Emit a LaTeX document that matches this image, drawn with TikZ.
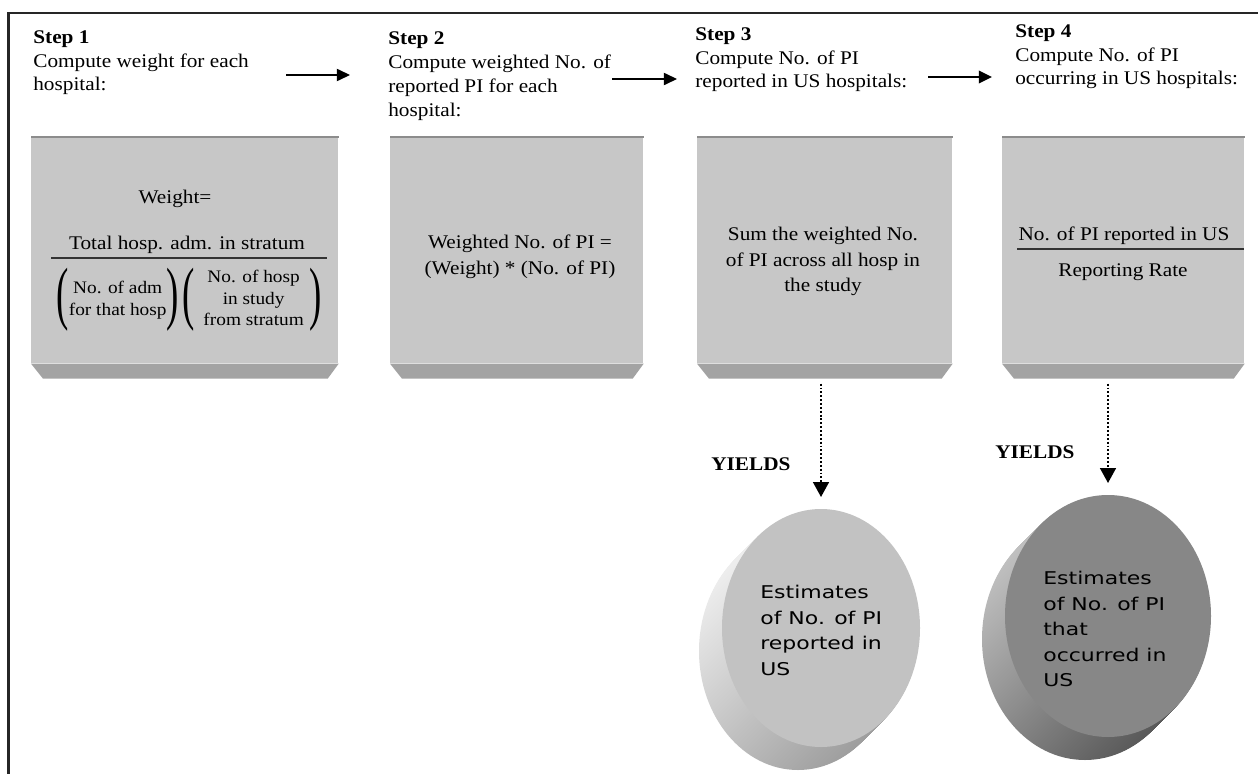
\documentclass[tikz,border=0pt]{standalone}
\usepackage{fontspec}
\setmainfont{Liberation Serif}[FakeStretch=1.1]
\newfontfamily\discfont{DejaVu Sans}[FakeStretch=1.25]
\usepackage{graphicx}
\usepackage{xcolor}
\usepackage{tikz}
\usetikzlibrary{arrows.meta,calc,positioning}
\definecolor{panelFace}{gray}{0.78}
\definecolor{panelShade}{gray}{0.64}
\definecolor{panelEdge}{gray}{0.55}
\newcommand{\BigParen}[1]{$\vcenter{\hbox{\resizebox*{7pt}{36pt}{#1}}}$}
\tikzset{
  panel/.style={fill=panelFace, inner sep=0pt, anchor=north west, minimum height=4.52cm},
  panelBevel/.style={fill=panelShade},
  panelTop/.style={draw=panelEdge, line width=0.6pt},
  stepText/.style={anchor=north west, align=left, inner sep=0pt, font=\fontsize{11pt}{13.6pt}\selectfont},
  boxText/.style={align=center, inner sep=0pt, font=\fontsize{11pt}{14.5pt}\selectfont},
  discText/.style={anchor=north west, align=left, inner sep=0pt, font=\discfont\fontsize{10pt}{14.5pt}\selectfont},
  yieldText/.style={anchor=base west, inner sep=0pt, font=\fontsize{11pt}{12pt}\selectfont\bfseries},
  fracLine/.style={line width=0.6pt, draw=black!80},
  stepArrow/.style={-{Triangle[length=7.5pt,width=7pt]}, line width=0.7pt},
  yieldArrow/.style={-{Triangle[length=8.5pt,width=9pt]}, line width=1.1pt, dash pattern=on 1.1pt off 1.1pt},
  frameLine/.style={line width=1.6pt, draw=black!85}
}
% panel with bevelled foot: name, left x, right x
\newcommand{\DrawPanel}[3]{%
  \node[panel, minimum width={(#3-#2)*0.02cm}] (#1) at (#2,137) {};
  \fill[panelBevel] (#1.south west) -- (#1.south east) -- ++(-11,15) -- ($(#1.south west)+(12,15)$) -- cycle;
  \draw[panelTop] (#1.north west) -- (#1.north east);
}
% disc: name, cx, cy, rx, ry, depth, face, side light, side dark
\newcommand{\DrawDisc}[9]{%
  \foreach \k in {#6,...,1}{%
    \shade[top color=#8, bottom color=#9, shading angle=45] ({#2-\k},{#3+\k}) ellipse [x radius=#4, y radius=#5];
  }%
  \fill[#7] (#2,#3) ellipse [x radius=#4, y radius=#5];
  \coordinate (#1) at (#2,#3);
}

\begin{document}
\begin{tikzpicture}[x=0.02cm, y=-0.02cm]
  \fill[white] (0,0) rectangle (1258,774);
  \useasboundingbox (0,0) rectangle (1258,774);
  \draw[frameLine] (8.5,774) -- (8.5,13) -- (1258,13);

  % step headings
  \node[stepText] (step1) at (33,30) {\textbf{Step 1}\\Compute weight for each\\hospital:};
  \node[stepText] (step2) at (388,31.5) {\textbf{Step 2}\\Compute weighted No. of\\reported PI for each\\hospital:};
  \node[stepText] (step3) at (695,27) {\textbf{Step 3}\\Compute No. of PI\\reported in US hospitals:};
  \node[stepText] (step4) at (1015,24) {\textbf{Step 4}\\Compute No. of PI\\occurring in US hospitals:};

  \coordinate (a12s) at (286,75);  \coordinate (a12e) at (350,75);
  \coordinate (a23s) at (612,79);  \coordinate (a23e) at (677,79);
  \coordinate (a34s) at (928,77);  \coordinate (a34e) at (992,77);
  \draw[stepArrow] (a12s) -- (a12e);
  \draw[stepArrow] (a23s) -- (a23e);
  \draw[stepArrow, line width=1.5pt] (a34s) -- (a34e);

  % panels
  \DrawPanel{box1}{31}{338}
  \DrawPanel{box2}{390}{643}
  \DrawPanel{box3}{697}{952}
  \DrawPanel{box4}{1002}{1244}

  % step 1 formula
  \node[boxText, anchor=base] (w1) at (175,203) {Weight=};
  \node[boxText, anchor=base] (w1num) at (187,249) {Total hosp. adm. in stratum};
  \draw[fracLine] (51,258) -- (327,258);
  \node[boxText] (w1den) at (189,300) {\fontsize{10pt}{12.2pt}\selectfont
    \BigParen{(}\begin{tabular}{@{}c@{}}No. of adm\\for that hosp\end{tabular}\BigParen{)}\hspace{2pt}%
    \BigParen{(}\begin{tabular}{@{\hspace{5pt}}c@{\hspace{3pt}}}No. of hosp\\in study\\from stratum\end{tabular}\BigParen{)}};

  % step 2 to 4 contents
  \node[boxText, anchor=north] (w2) at (520,235) {Weighted No. of PI =\\(Weight) * (No. of PI)};
  \node[boxText, anchor=north] (w3) at (823,227) {Sum the weighted No.\\of PI across all hosp in\\the study};
  \node[boxText, anchor=base] (w4num) at (1124,240) {No. of PI reported in US};
  \draw[fracLine] (1017,249) -- (1244,249);
  \node[boxText, anchor=base] (w4den) at (1123,276) {Reporting Rate};

  % result discs
  \DrawDisc{disc1}{821}{628}{99}{119}{23}{black!24}{black!7}{black!38}
  \DrawDisc{disc2}{1108}{616}{103}{121}{23}{black!47}{black!25}{black!65}
  \node[discText] (r1) at (760,585) {Estimates\\of No. of PI\\reported in\\US};
  \node[discText] (r2) at (1043,571) {Estimates\\of No. of PI\\that\\occurred in\\US};

  \draw[yieldArrow] ($(box3.south -| disc1)+(0,20)$) -- ($(disc1)+(0,-131)$);
  \draw[yieldArrow] ($(box4.south -| disc2)+(0,20)$) -- ($(disc2)+(0,-133)$);
  \node[yieldText] (y1) at (711,470) {YIELDS};
  \node[yieldText] (y2) at (995,458) {YIELDS};
\end{tikzpicture}
\end{document}
